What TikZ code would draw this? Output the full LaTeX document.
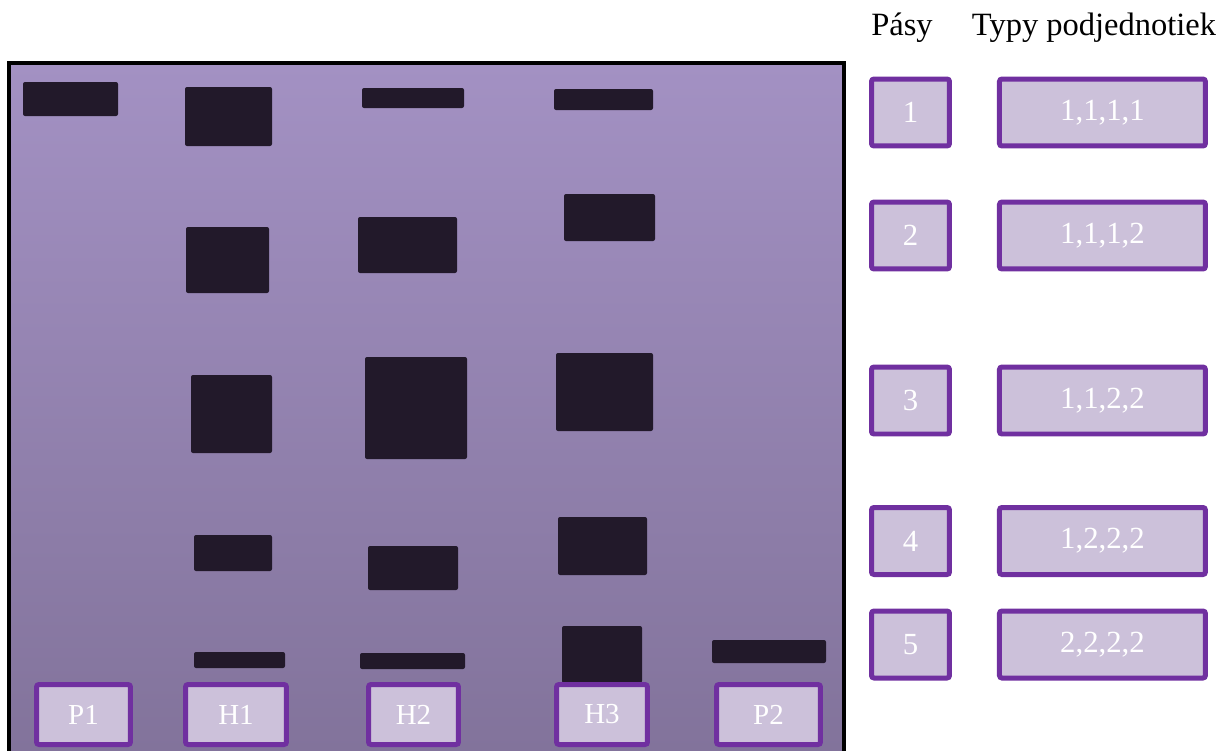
\documentclass[tikz,border=0pt]{standalone}
\usepackage{fontspec}
\setmainfont{Liberation Serif}
\usetikzlibrary{positioning}
\definecolor{lila}{RGB}{112,48,160}
\definecolor{lilafill}{RGB}{204,193,218}
\definecolor{gelhi}{RGB}{163,145,195}
\definecolor{gello}{RGB}{130,115,155}
\definecolor{bandc}{RGB}{34,25,42}
\begin{document}
\begin{tikzpicture}[x=0.02cm,y=-0.02cm,font=\fontsize{17.5}{20}\selectfont,
  tag/.style={draw=lila,fill=lilafill,line width=0.1cm,rounded corners=0.05cm,
    text=white,inner sep=0pt,minimum height=1.34cm},
  band/.style={fill=bandc,rounded corners=0.04cm}]
  \useasboundingbox (0,0) rectangle (1225,751);

  % gel photo
  \shade[top color=gelhi,bottom color=gello] (9,63) rectangle (844,751);
  \draw[line width=0.08cm] (9,751) -- (9,63) -- (844,63) -- (844,751);
  \foreach \xa/\ya/\xb/\yb in {23/82/118/116,
      185/87/272/146,186/227/269/293,191/375/272/453,194/535/272/571,194/652/285/668,
      362/88/464/108,358/217/457/273,365/357/467/459,368/546/458/590,360/653/465/669,
      554/89/653/110,564/194/655/241,556/353/653/431,558/517/647/575,562/626/642/683,
      712/640/826/663}
    \fill[band] (\xa,\ya) rectangle (\xb,\yb);

  % lane labels
  \foreach \n/\x/\w in {P1/83.5/1.88,H1/236/2.02,H2/413.5/1.8,H3/602/1.82,P2/768.5/2.08}
    \node[tag,minimum width=\w cm,minimum height=1.2cm,font=\fontsize{16.5}{19}\selectfont] (\n) at (\x,714.5) {\n};

  % legend
  \node[anchor=base,font=\fontsize{18.5}{21}\selectfont] (pasy) at (902,35) {Pásy};
  \node[anchor=base,font=\fontsize{18.5}{21}\selectfont] (typy) at (1094,35) {Typy podjednotiek};
  \foreach \i/\y/\t in {1/112.5/{1,1,1,1},2/235.5/{1,1,1,2},3/400.5/{1,1,2,2},
      4/541/{1,2,2,2},5/644.5/{2,2,2,2}}{
    \node[tag,minimum width=1.56cm] (pas\i) at (910.5,\y) {\i};
    \node[tag,minimum width=4.12cm,right=0.9cm of pas\i] (typ\i) {\t};
  }
\end{tikzpicture}
\end{document}
